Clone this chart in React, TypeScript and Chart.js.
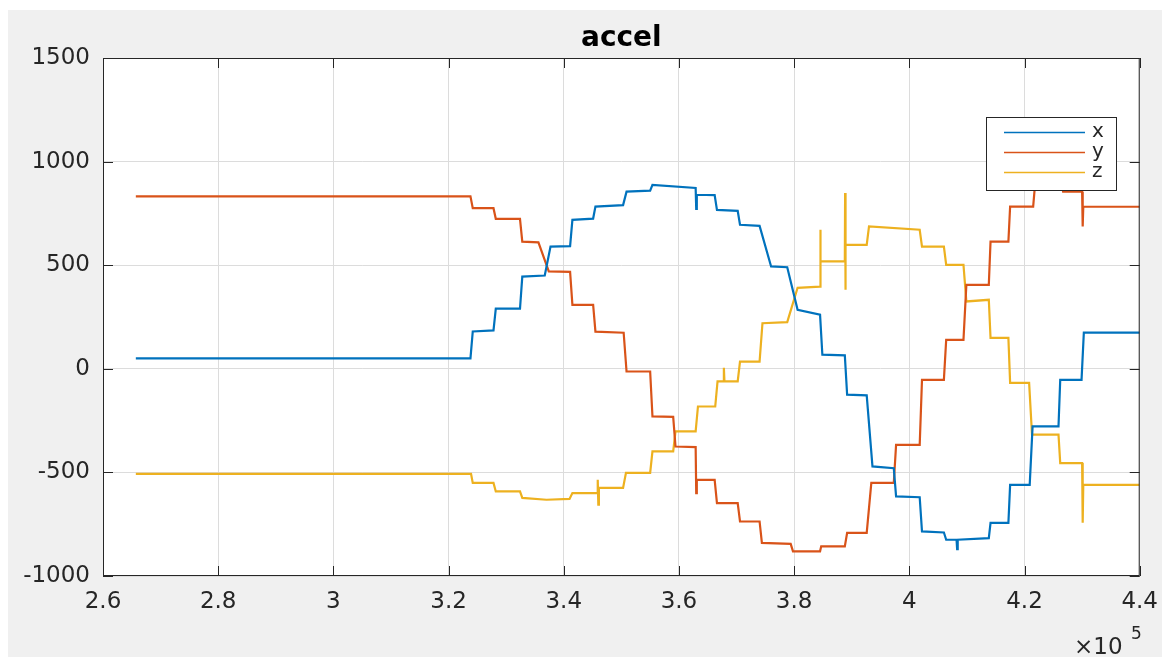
import React, { useEffect, useRef } from "react";
import { Chart, registerables } from "chart.js";

Chart.register(...registerables);

// Accelerometer readings: [sample time, value] breakpoints for each axis
const accelX: [number, number][] = [
  [265700, 50], [323800, 50], [324200, 180], [327800, 185], [328200, 290], [332400, 290],
  [332800, 445], [336700, 450], [337700, 590], [341100, 592], [341500, 719], [345100, 725],
  [345500, 783], [350300, 790], [350900, 855], [355000, 860], [355400, 888], [362900, 873],
  [363000, 772], [363100, 840], [366200, 838], [366600, 767], [370200, 762], [370600, 695],
  [374000, 690], [376000, 494], [378800, 490], [380600, 285], [384500, 261], [384900, 68],
  [388800, 65], [389200, -125], [392600, -128], [393600, -471], [397300, -480], [397700, -616],
  [401800, -620], [402200, -785], [406000, -790], [406400, -825], [408200, -825], [408300, -870],
  [408400, -825], [413800, -817], [414100, -744], [417200, -744], [417500, -560], [420900, -560],
  [421400, -278], [425900, -278], [426200, -53], [429900, -53], [430300, 175], [440000, 175],
];

const accelY: [number, number][] = [
  [265700, 832], [323800, 832], [324200, 775], [327800, 775], [328200, 724], [332400, 724],
  [332800, 614], [335600, 610], [337400, 470], [341100, 468], [341500, 309], [345100, 309],
  [345500, 179], [350400, 174], [350900, -13], [355000, -13], [355400, -230], [359000, -232],
  [359400, -375], [362900, -378], [363000, -600], [363100, -536], [366200, -536], [366600, -648],
  [370200, -648], [370600, -737], [374000, -737], [374400, -840], [379400, -845], [379800, -881],
  [384500, -881], [384700, -857], [388800, -857], [389200, -792], [392600, -792], [393400, -551],
  [397300, -551], [397700, -367], [401800, -367], [402200, -53], [406000, -53], [406400, 140],
  [409400, 140], [409900, 405], [413800, 405], [414100, 614], [417200, 614], [417500, 783],
  [421500, 783], [421800, 880], [426600, 870], [426700, 855], [430000, 855], [430100, 687],
  [430200, 782], [440000, 782],
];

const accelZ: [number, number][] = [
  [265700, -507], [323900, -507], [324200, -551], [327800, -551], [328200, -592], [332400, -592],
  [332800, -623], [337000, -632], [341000, -628], [341500, -600], [345800, -600], [345900, -535],
  [346000, -656], [346100, -575], [350300, -575], [350800, -502], [355000, -502], [355400, -399],
  [359000, -399], [359400, -302], [362900, -302], [363300, -182], [366300, -182], [366700, -61],
  [367700, -61], [367800, 5], [367900, -61], [370200, -61], [370600, 35], [374000, 35],
  [374500, 220], [378800, 225], [380600, 391], [384500, 397], [384550, 671], [384600, 518],
  [388800, 518], [388850, 849], [388900, 381], [388950, 598], [392600, 598], [393000, 687],
  [401800, 671], [402200, 590], [406000, 590], [406400, 502], [409400, 502], [409900, 325],
  [413800, 333], [414100, 149], [417200, 149], [417500, -68], [420800, -68], [421300, -318],
  [425900, -318], [426200, -455], [430000, -455], [430100, -743], [430200, -560], [440000, -560],
];

const seriesNames = ["x", "y", "z"];
const seriesColors = ["#0072BD", "#D95319", "#EDB120"];

const xTickValues = [260000, 280000, 300000, 320000, 340000, 360000, 380000, 400000, 420000, 440000];
const xTickLabels = ["2.6", "2.8", "3", "3.2", "3.4", "3.6", "3.8", "4", "4.2", "4.4"];
const yTickValues = [-1000, -500, 0, 500, 1000, 1500];
const yTickLabels = ["-1000", "-500", "0", "500", "1000", "1500"];

const titleText = "accel";
const FONT = "'DejaVu Sans', sans-serif";
const INK = "#262626";

export default function App() {
  const canvasRef = useRef<HTMLCanvasElement>(null);

  useEffect(() => {
    const canvas = canvasRef.current;
    if (!canvas) return;

    const axesDecor = {
      id: "axesDecor",
      beforeDraw(chart: any) {
        const { ctx, chartArea: a, width, height } = chart;
        ctx.save();
        ctx.fillStyle = "#f0f0f0";
        ctx.fillRect(0, 0, width, height);
        ctx.fillStyle = "#ffffff";
        ctx.fillRect(a.left, a.top, a.right - a.left, a.bottom - a.top);
        ctx.restore();
      },
      afterDatasetsDraw(chart: any) {
        const { ctx, chartArea: a, scales } = chart;
        ctx.save();
        // axes box
        ctx.strokeStyle = INK;
        ctx.lineWidth = 1;
        ctx.strokeRect(a.left + 0.5, a.top + 0.5, a.right - a.left - 1, a.bottom - a.top - 1);

        // inward ticks on all four sides
        const L = 10;
        ctx.beginPath();
        xTickValues.forEach((v) => {
          const px = Math.round(scales.x.getPixelForValue(v)) + 0.5;
          ctx.moveTo(px, a.bottom);
          ctx.lineTo(px, a.bottom - L);
          ctx.moveTo(px, a.top);
          ctx.lineTo(px, a.top + L);
        });
        yTickValues.forEach((v) => {
          const py = Math.round(scales.y.getPixelForValue(v)) + 0.5;
          ctx.moveTo(a.left, py);
          ctx.lineTo(a.left + L, py);
          ctx.moveTo(a.right, py);
          ctx.lineTo(a.right - L, py);
        });
        ctx.stroke();

        // legend
        const lx = 978, ly = 107, lw = 130, lh = 73;
        ctx.fillStyle = "#ffffff";
        ctx.fillRect(lx, ly, lw, lh);
        ctx.strokeStyle = INK;
        ctx.strokeRect(lx + 0.5, ly + 0.5, lw, lh);
        ctx.font = `20px ${FONT}`;
        ctx.textBaseline = "middle";
        ctx.textAlign = "left";
        seriesNames.forEach((name, i) => {
          const rowY = ly + 15 + i * 20;
          ctx.strokeStyle = seriesColors[i];
          ctx.lineWidth = 1.5;
          ctx.beginPath();
          ctx.moveTo(lx + 18, rowY + 0.5);
          ctx.lineTo(lx + 99, rowY + 0.5);
          ctx.stroke();
          ctx.fillStyle = INK;
          ctx.fillText(name, lx + 106, rowY);
        });

        // title
        ctx.fillStyle = "#000000";
        ctx.font = `bold 28px ${FONT}`;
        ctx.textAlign = "center";
        ctx.textBaseline = "alphabetic";
        ctx.fillText(titleText, (a.left + a.right) / 2, 36);

        // x-axis exponent
        ctx.fillStyle = INK;
        ctx.textAlign = "left";
        ctx.font = `23px ${FONT}`;
        ctx.fillText("\u00d710", 1066, 644);
        ctx.font = `17px ${FONT}`;
        ctx.fillText("5", 1123, 629);
        ctx.restore();
      },
    };

    const toPoints = (pairs: [number, number][]) => pairs.map(([x, y]) => ({ x, y }));
    const series = [accelX, accelY, accelZ];

    const chart = new Chart(canvas, {
      type: "line",
      data: {
        datasets: series.map((pairs, i) => ({
          label: seriesNames[i],
          data: toPoints(pairs),
          borderColor: seriesColors[i],
          backgroundColor: seriesColors[i],
          borderWidth: 2.2,
          pointRadius: 0,
          tension: 0,
          fill: false,
        })),
      },
      options: {
        responsive: false,
        animation: false,
        devicePixelRatio: 1,
        layout: { padding: { top: 48, right: 27, left: 0, bottom: 0 } },
        plugins: {
          legend: { display: false },
          title: { display: false },
          tooltip: { enabled: false },
        },
        scales: {
          x: {
            type: "linear",
            min: 260000,
            max: 440000,
            afterBuildTicks: (s: any) => {
              s.ticks = xTickValues.map((value) => ({ value }));
            },
            afterFit: (s: any) => {
              s.height = 81;
            },
            ticks: {
              autoSkip: false,
              maxRotation: 0,
              padding: 12,
              color: INK,
              font: { family: FONT, size: 23 },
              callback: (_v: any, i: number) => xTickLabels[i],
            },
            grid: { color: "#dcdcdc", drawTicks: false, lineWidth: 1 },
            border: { display: false },
          },
          y: {
            type: "linear",
            min: -1000,
            max: 1500,
            afterBuildTicks: (s: any) => {
              s.ticks = yTickValues.map((value) => ({ value }));
            },
            afterFit: (s: any) => {
              s.width = 95;
            },
            ticks: {
              autoSkip: false,
              padding: 13,
              color: INK,
              font: { family: FONT, size: 23 },
              callback: (_v: any, i: number) => yTickLabels[i],
            },
            grid: { color: "#dcdcdc", drawTicks: false, lineWidth: 1 },
            border: { display: false },
          },
        },
      },
      plugins: [axesDecor],
    });

    return () => chart.destroy();
  }, []);

  return (
    <div style={{ paddingTop: 2 }}>
      <canvas ref={canvasRef} width={1162} height={647} style={{ display: "block" }} />
    </div>
  );
}
